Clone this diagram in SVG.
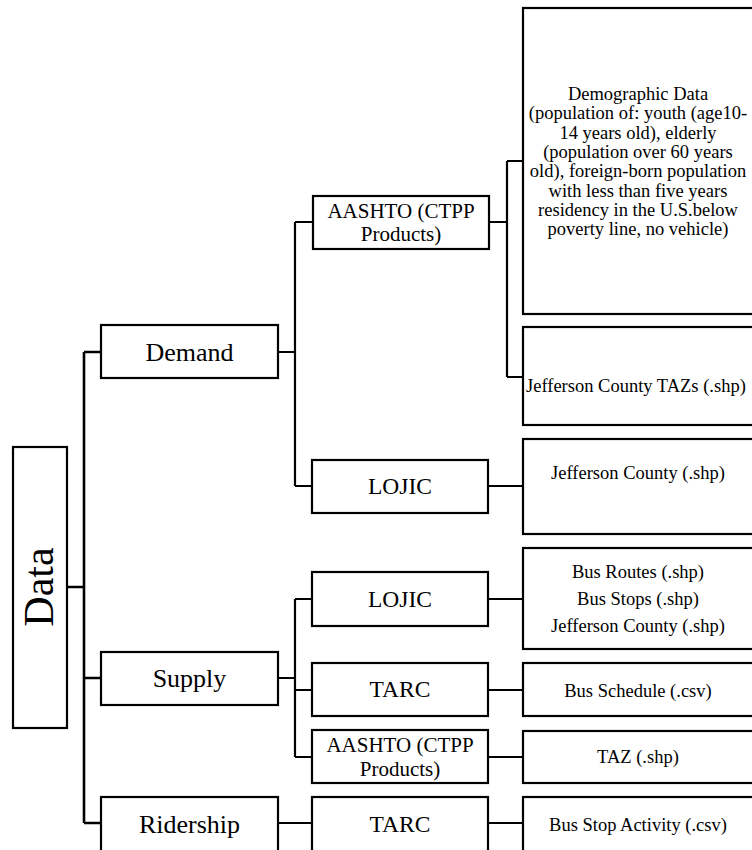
<svg xmlns="http://www.w3.org/2000/svg" width="752" height="850" viewBox="0 0 752 850">
<style>
.box{fill:#fff;stroke:#000;stroke-width:2.2}
.ln{fill:none;stroke:#000;stroke-width:2.2}
.t{font-family:"Liberation Serif","Times New Roman",serif;fill:#000;text-anchor:middle}
.l1{font-size:26px}
.l2{font-size:23.5px}
.l2s{font-size:21px}
.l3{font-size:18.5px}
</style>
<rect width="752" height="850" fill="#fff"/>
<g id="connectors">
<path class="ln" d="M67 587H84M84 352V823M84 352H101M84 678H101M84 823H101" style="stroke-width:2.6"/>
<path class="ln" d="M278 352H295M295 222V486M295 222H313M295 486H312"/>
<path class="ln" d="M489 222H507M507 161V377M507 161H523M507 377H523"/>
<path class="ln" d="M488 486H523"/>
<path class="ln" d="M278 678H295M295 599V757M295 599H312M295 690H312M295 757H312"/>
<path class="ln" d="M488 599H523M488 690H523M488 757H523"/>
<path class="ln" d="M278 823H312M488 823H523"/>
</g>
<g id="data"><rect class="box" x="13" y="447" width="54" height="281"/><text class="t" x="53" y="587" font-size="42" transform="rotate(-90 53 587)">Data</text></g>
<g id="demand"><rect class="box" x="101" y="325" width="177" height="53"/><text class="t l1" x="189.5" y="361">Demand</text></g>
<g id="supply"><rect class="box" x="101" y="652" width="177" height="53"/><text class="t l1" x="189.5" y="687">Supply</text></g>
<g id="ridership"><rect class="box" x="101" y="797" width="177" height="70"/><text class="t l1" x="189.5" y="833">Ridership</text></g>
<g id="aashto-demand"><rect class="box" x="313" y="196" width="176" height="53"/><text class="t l2s" x="401" y="217.5">AASHTO (CTPP</text><text class="t l2s" x="401" y="241">Products)</text></g>
<g id="lojic-demand"><rect class="box" x="312" y="460" width="176" height="53"/><text class="t l2" x="400" y="494">LOJIC</text></g>
<g id="lojic-supply"><rect class="box" x="312" y="572" width="176" height="54"/><text class="t l2" x="400" y="607">LOJIC</text></g>
<g id="tarc-supply"><rect class="box" x="312" y="663" width="176" height="53"/><text class="t l2" x="400" y="697">TARC</text></g>
<g id="aashto-supply"><rect class="box" x="312" y="730" width="176" height="53"/><text class="t l2s" x="400" y="752">AASHTO (CTPP</text><text class="t l2s" x="400" y="775.5">Products)</text></g>
<g id="tarc-ridership"><rect class="box" x="312" y="797" width="176" height="70"/><text class="t l2" x="400" y="832">TARC</text></g>
<g id="demographic"><rect class="box" x="523" y="8" width="245" height="306"/>
<text class="t l3" x="638"><tspan x="638" y="100">Demographic Data</tspan><tspan x="638" y="119.3">(population of: youth (age10-</tspan><tspan x="638" y="138.6">14 years old), elderly</tspan><tspan x="638" y="157.9">(population over 60 years</tspan><tspan x="638" y="177.2">old), foreign-born population</tspan><tspan x="638" y="196.5">with less than five years</tspan><tspan x="638" y="215.8">residency in the U.S.below</tspan><tspan x="638" y="235.1">poverty line, no vehicle)</tspan></text></g>
<g id="jc-tazs"><rect class="box" x="523" y="327" width="245" height="98"/><text class="t l3" x="526" y="392" style="text-anchor:start">Jefferson County TAZs (.shp)</text></g>
<g id="jc-shp"><rect class="box" x="523" y="439" width="245" height="95"/><text class="t l3" x="638" y="479">Jefferson County (.shp)</text></g>
<g id="bus-routes"><rect class="box" x="523" y="548" width="245" height="101"/><text class="t l3" x="638" y="578">Bus Routes (.shp)</text><text class="t l3" x="638" y="605">Bus Stops (.shp)</text><text class="t l3" x="638" y="632">Jefferson County (.shp)</text></g>
<g id="bus-schedule"><rect class="box" x="523" y="663" width="245" height="53"/><text class="t l3" x="638" y="697">Bus Schedule (.csv)</text></g>
<g id="taz"><rect class="box" x="523" y="731" width="245" height="52"/><text class="t l3" x="638" y="763">TAZ (.shp)</text></g>
<g id="bus-stop-activity"><rect class="box" x="523" y="797" width="245" height="70"/><text class="t l3" x="638" y="831">Bus Stop Activity (.csv)</text></g>
</svg>
